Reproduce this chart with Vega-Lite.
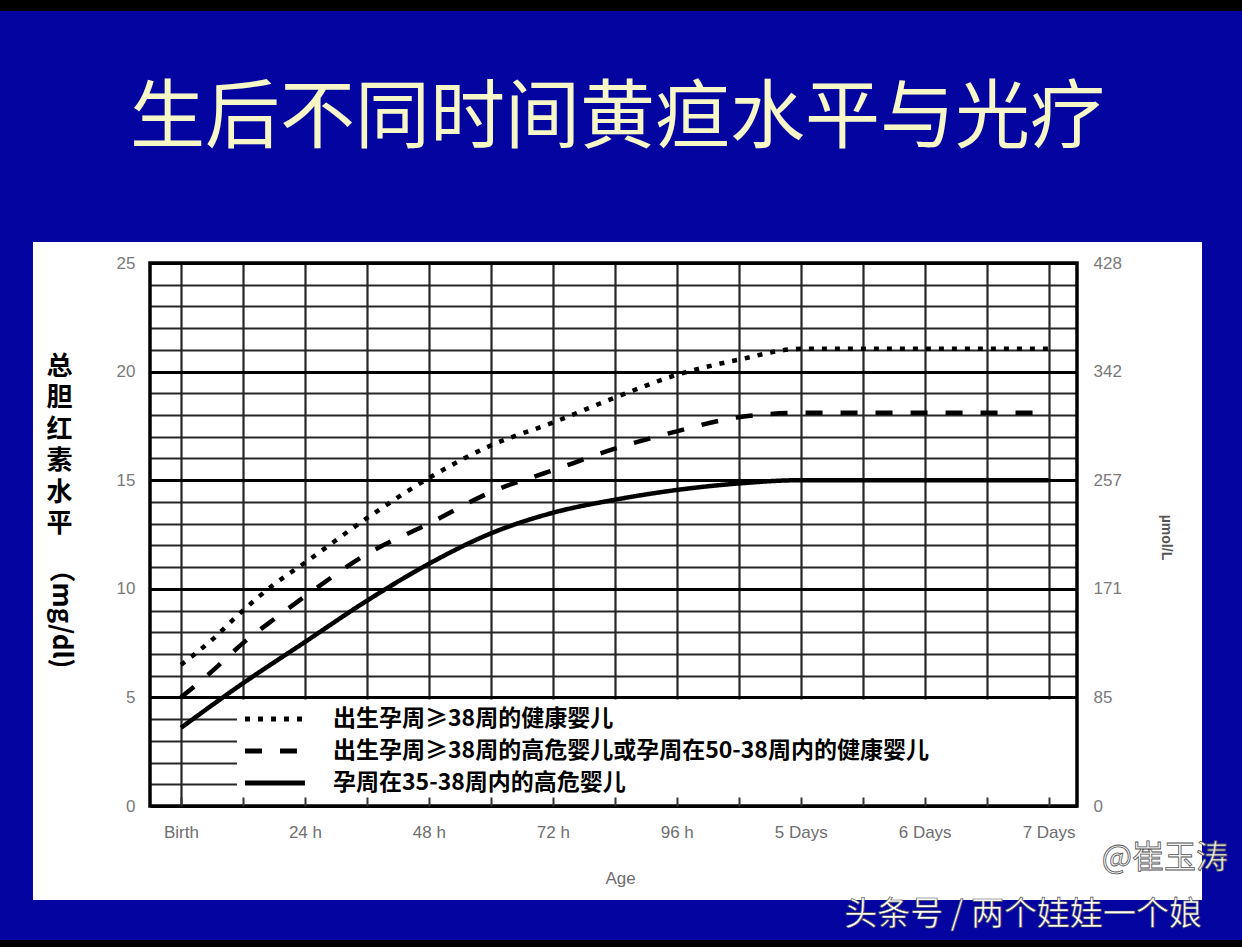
{
  "$schema": "https://vega.github.io/schema/vega-lite/v6.json",
  "width": 927,
  "height": 543,
  "autosize": {"type": "none"},
  "padding": {"left": 150, "top": 263, "right": 165, "bottom": 141},
  "background": "#ffffff",
  "title": {
    "text": "生后不同时间黄疸水平与光疗",
    "anchor": "middle",
    "frame": "group",
    "font": "Noto Sans CJK SC",
    "fontSize": 75,
    "fontWeight": "normal",
    "color": "#f6f6c6",
    "offset": -177,
    "dx": 4
  },
  "data": {
    "values": [
      {"series": "出生孕周≥38周的健康婴儿", "age": 0, "value": 6.5},
      {"series": "出生孕周≥38周的健康婴儿", "age": 6, "value": 7.65},
      {"series": "出生孕周≥38周的健康婴儿", "age": 12, "value": 9.0},
      {"series": "出生孕周≥38周的健康婴儿", "age": 18, "value": 10.2},
      {"series": "出生孕周≥38周的健康婴儿", "age": 24, "value": 11.2},
      {"series": "出生孕周≥38周的健康婴儿", "age": 36, "value": 13.25},
      {"series": "出生孕周≥38周的健康婴儿", "age": 48, "value": 15.1},
      {"series": "出生孕周≥38周的健康婴儿", "age": 60, "value": 16.6},
      {"series": "出生孕周≥38周的健康婴儿", "age": 72, "value": 17.65},
      {"series": "出生孕周≥38周的健康婴儿", "age": 84, "value": 18.8},
      {"series": "出生孕周≥38周的健康婴儿", "age": 96, "value": 19.85},
      {"series": "出生孕周≥38周的健康婴儿", "age": 108, "value": 20.55},
      {"series": "出生孕周≥38周的健康婴儿", "age": 120, "value": 21.05},
      {"series": "出生孕周≥38周的健康婴儿", "age": 144, "value": 21.05},
      {"series": "出生孕周≥38周的健康婴儿", "age": 168, "value": 21.05},
      {"series": "出生孕周≥38周的高危婴儿或孕周在50-38周内的健康婴儿", "age": 0, "value": 5.0},
      {"series": "出生孕周≥38周的高危婴儿或孕周在50-38周内的健康婴儿", "age": 6, "value": 6.2},
      {"series": "出生孕周≥38周的高危婴儿或孕周在50-38周内的健康婴儿", "age": 12, "value": 7.5},
      {"series": "出生孕周≥38周的高危婴儿或孕周在50-38周内的健康婴儿", "age": 18, "value": 8.6},
      {"series": "出生孕周≥38周的高危婴儿或孕周在50-38周内的健康婴儿", "age": 24, "value": 9.65},
      {"series": "出生孕周≥38周的高危婴儿或孕周在50-38周内的健康婴儿", "age": 36, "value": 11.6},
      {"series": "出生孕周≥38周的高危婴儿或孕周在50-38周内的健康婴儿", "age": 48, "value": 13.0},
      {"series": "出生孕周≥38周的高危婴儿或孕周在50-38周内的健康婴儿", "age": 60, "value": 14.45},
      {"series": "出生孕周≥38周的高危婴儿或孕周在50-38周内的健康婴儿", "age": 72, "value": 15.45},
      {"series": "出生孕周≥38周的高危婴儿或孕周在50-38周内的健康婴儿", "age": 84, "value": 16.45},
      {"series": "出生孕周≥38周的高危婴儿或孕周在50-38周内的健康婴儿", "age": 96, "value": 17.25},
      {"series": "出生孕周≥38周的高危婴儿或孕周在50-38周内的健康婴儿", "age": 108, "value": 17.9},
      {"series": "出生孕周≥38周的高危婴儿或孕周在50-38周内的健康婴儿", "age": 120, "value": 18.1},
      {"series": "出生孕周≥38周的高危婴儿或孕周在50-38周内的健康婴儿", "age": 144, "value": 18.1},
      {"series": "出生孕周≥38周的高危婴儿或孕周在50-38周内的健康婴儿", "age": 168, "value": 18.1},
      {"series": "孕周在35-38周内的高危婴儿", "age": 0, "value": 3.6},
      {"series": "孕周在35-38周内的高危婴儿", "age": 12, "value": 5.65},
      {"series": "孕周在35-38周内的高危婴儿", "age": 24, "value": 7.55},
      {"series": "孕周在35-38周内的高危婴儿", "age": 36, "value": 9.45},
      {"series": "孕周在35-38周内的高危婴儿", "age": 48, "value": 11.15},
      {"series": "孕周在35-38周内的高危婴儿", "age": 60, "value": 12.55},
      {"series": "孕周在35-38周内的高危婴儿", "age": 72, "value": 13.5},
      {"series": "孕周在35-38周内的高危婴儿", "age": 84, "value": 14.1},
      {"series": "孕周在35-38周内的高危婴儿", "age": 96, "value": 14.55},
      {"series": "孕周在35-38周内的高危婴儿", "age": 108, "value": 14.85},
      {"series": "孕周在35-38周内的高危婴儿", "age": 120, "value": 15.0},
      {"series": "孕周在35-38周内的高危婴儿", "age": 144, "value": 15.0},
      {"series": "孕周在35-38周内的高危婴儿", "age": 168, "value": 15.0}
    ]
  },
  "layer": [
    {
      "data": {"values": [{}]},
      "mark": {"type": "rect", "color": "#0404a0"},
      "encoding": {
        "x": {"datum": -36, "type": "quantitative", "axis": null},
        "x2": {"datum": 207},
        "y": {"datum": 38, "type": "quantitative", "axis": null},
        "y2": {"datum": 25.97}
      }
    },
    {
      "data": {"values": [{}]},
      "mark": {"type": "rect", "color": "#000000"},
      "encoding": {
        "x": {"datum": -36, "type": "quantitative", "axis": null},
        "x2": {"datum": 207},
        "y": {"datum": 38, "type": "quantitative", "axis": null},
        "y2": {"datum": 36.6}
      }
    },
    {
      "data": {"values": [{}]},
      "mark": {"type": "rect", "color": "#0404a0"},
      "encoding": {
        "x": {"datum": -36, "type": "quantitative", "axis": null},
        "x2": {"datum": -28.66},
        "y": {"datum": 25.97, "type": "quantitative", "axis": null},
        "y2": {"datum": -6.17}
      }
    },
    {
      "data": {"values": [{}]},
      "mark": {"type": "rect", "color": "#0404a0"},
      "encoding": {
        "x": {"datum": 197.71, "type": "quantitative", "axis": null},
        "x2": {"datum": 207},
        "y": {"datum": 25.97, "type": "quantitative", "axis": null},
        "y2": {"datum": -6.17}
      }
    },
    {
      "data": {"values": [{}]},
      "mark": {"type": "rect", "color": "#0404a0"},
      "encoding": {
        "x": {"datum": -36, "type": "quantitative", "axis": null},
        "x2": {"datum": 207},
        "y": {"datum": -4.33, "type": "quantitative", "axis": null},
        "y2": {"datum": -6.17}
      }
    },
    {
      "data": {"values": [{}]},
      "mark": {"type": "rect", "color": "#000000"},
      "encoding": {
        "x": {"datum": -36, "type": "quantitative", "axis": null},
        "x2": {"datum": 207},
        "y": {"datum": -6.17, "type": "quantitative", "axis": null},
        "y2": {"datum": -7}
      }
    },
    {
      "data": {"values": [{}]},
      "mark": {"type": "rect", "color": "#ffffff"},
      "encoding": {
        "x": {"datum": 10.85, "type": "quantitative", "axis": null},
        "x2": {"datum": 173.5},
        "y": {
          "datum": 0,
          "type": "quantitative",
          "axis": {
            "orient": "left",
            "labels": false,
            "ticks": false,
            "domain": false,
            "grid": false,
            "title": "（mg/dl)",
            "titleFont": "Noto Sans CJK SC",
            "titleFontSize": 26,
            "titleFontWeight": "bold",
            "titleColor": "#000000",
            "titleAngle": 90,
            "titleAlign": "center",
            "titleBaseline": "middle",
            "titleX": -90,
            "titleY": 349
          }
        },
        "y2": {"datum": 4.9}
      }
    },
    {
      "mark": {"type": "line", "interpolate": "monotone", "color": "#000000", "strokeWidth": 4.5, "strokeCap": "butt"},
      "encoding": {
        "x": {
          "field": "age",
          "type": "quantitative",
          "scale": {"domain": [-6, 173.5], "nice": false, "zero": false},
          "axis": {
            "orient": "bottom",
            "values": [0, 12, 24, 36, 48, 60, 72, 84, 96, 108, 120, 132, 144, 156, 168],
            "labelExpr": "['Birth','24 h','48 h','72 h','96 h','5 Days','6 Days','7 Days'][datum.value / 24] || ''",
            "grid": true,
            "gridColor": "#262626",
            "gridWidth": 2.2,
            "ticks": false,
            "domain": false,
            "labelFont": "Liberation Sans",
            "labelFontSize": 17,
            "labelColor": "#6e6e6e",
            "labelPadding": 18,
            "title": "Age",
            "titleFont": "Liberation Sans",
            "titleFontSize": 17,
            "titleFontWeight": "normal",
            "titleColor": "#6e6e6e",
            "titleX": 470,
            "titleY": 72,
            "titleBaseline": "middle"
          }
        },
        "y": {
          "field": "value",
          "type": "quantitative",
          "scale": {"domain": [0, 25], "nice": false},
          "axis": {
            "orient": "left",
            "values": [0, 1, 2, 3, 4, 5, 6, 7, 8, 9, 10, 11, 12, 13, 14, 15, 16, 17, 18, 19, 20, 21, 22, 23, 24, 25],
            "labelExpr": "datum.value % 5 === 0 ? datum.label : ''",
            "grid": true,
            "gridColor": {"condition": {"test": "datum.value % 5 === 0", "value": "#000000"}, "value": "#262626"},
            "gridWidth": {"condition": {"test": "datum.value % 5 === 0", "value": 3.2}, "value": 2.2},
            "ticks": false,
            "domain": false,
            "labelFont": "Liberation Sans",
            "labelFontSize": 17,
            "labelColor": "#7a7a7a",
            "labelPadding": 15,
            "title": ["总", "胆", "红", "素", "水", "平"],
            "titleFont": "Noto Sans CJK SC",
            "titleFontSize": 26,
            "titleFontWeight": "bold",
            "titleColor": "#000000",
            "titleLineHeight": 31.5,
            "titleAngle": 0,
            "titleAlign": "center",
            "titleBaseline": "top",
            "titleX": -91,
            "titleY": 90
          }
        },
        "strokeDash": {
          "field": "series",
          "type": "nominal",
          "scale": {
            "domain": ["出生孕周≥38周的健康婴儿", "出生孕周≥38周的高危婴儿或孕周在50-38周内的健康婴儿", "孕周在35-38周内的高危婴儿"],
            "range": [[5, 8], [17, 18], [1, 0]]
          },
          "legend": {
            "title": null,
            "orient": "none",
            "legendX": 110,
            "legendY": 441,
            "padding": 0,
            "rowPadding": 5,
            "symbolType": "M-2.4,0L2.4,0",
            "symbolSize": 625,
            "symbolStrokeWidth": 5,
            "symbolStrokeColor": "#000000",
            "symbolFillColor": "transparent",
            "labelFont": "Noto Sans CJK SC",
            "labelFontSize": 23,
            "labelFontWeight": "bold",
            "labelColor": "#000000",
            "labelOffset": 43,
            "labelLimit": 1000,
            "zindex": 1
          }
        }
      }
    },
    {
      "data": {"values": [{}]},
      "mark": {"type": "rect", "filled": false, "stroke": "#000000", "strokeWidth": 3.5},
      "encoding": {
        "x": {
          "datum": -6,
          "type": "quantitative",
          "axis": {
            "orient": "bottom",
            "values": [0, 12, 24, 36, 48, 60, 72, 84, 96, 108, 120, 132, 144, 156, 168],
            "labels": false,
            "ticks": true,
            "tickSize": -9,
            "tickWidth": 2,
            "tickColor": "#333333",
            "domain": false,
            "grid": false,
            "title": null,
            "zindex": 1
          }
        },
        "x2": {"datum": 173.5},
        "y": {
          "datum": 0,
          "type": "quantitative",
          "axis": {
            "orient": "right",
            "values": [0, 5, 10, 15, 20, 25],
            "labelExpr": "['0','85','171','257','342','428'][datum.value / 5] || ''",
            "ticks": false,
            "domain": false,
            "grid": false,
            "labelFont": "Liberation Sans",
            "labelFontSize": 17,
            "labelColor": "#7a7a7a",
            "labelPadding": 16,
            "title": "µmol/L",
            "titleFont": "Liberation Sans",
            "titleFontSize": 14,
            "titleFontWeight": "bold",
            "titleColor": "#555555",
            "titleAngle": 90,
            "titleAlign": "center",
            "titleBaseline": "middle",
            "titleX": 88,
            "titleY": 274
          }
        },
        "y2": {"datum": 25}
      }
    },
    {
      "data": {"values": [{}]},
      "mark": {"type": "text", "text": "@崔玉涛", "font": "Noto Sans CJK SC", "fontSize": 32, "fill": "#f4f4f4", "stroke": "#555555", "strokeWidth": 0.8, "align": "center", "baseline": "middle"},
      "encoding": {
        "x": {"datum": 190.5, "type": "quantitative", "axis": null},
        "y": {"datum": -2.39, "type": "quantitative", "axis": null}
      }
    },
    {
      "data": {"values": [{}]},
      "mark": {"type": "text", "text": "头条号 / 两个娃娃一个娘", "font": "Noto Sans CJK SC", "fontSize": 33, "fill": "#ffffff", "stroke": "#444444", "strokeWidth": 0.6, "align": "center", "baseline": "middle"},
      "encoding": {
        "x": {"datum": 163.05, "type": "quantitative", "axis": null},
        "y": {"datum": -5.02, "type": "quantitative", "axis": null}
      }
    }
  ],
  "resolve": {"axis": {"x": "independent", "y": "independent"}},
  "config": {"view": {"stroke": null}}
}
